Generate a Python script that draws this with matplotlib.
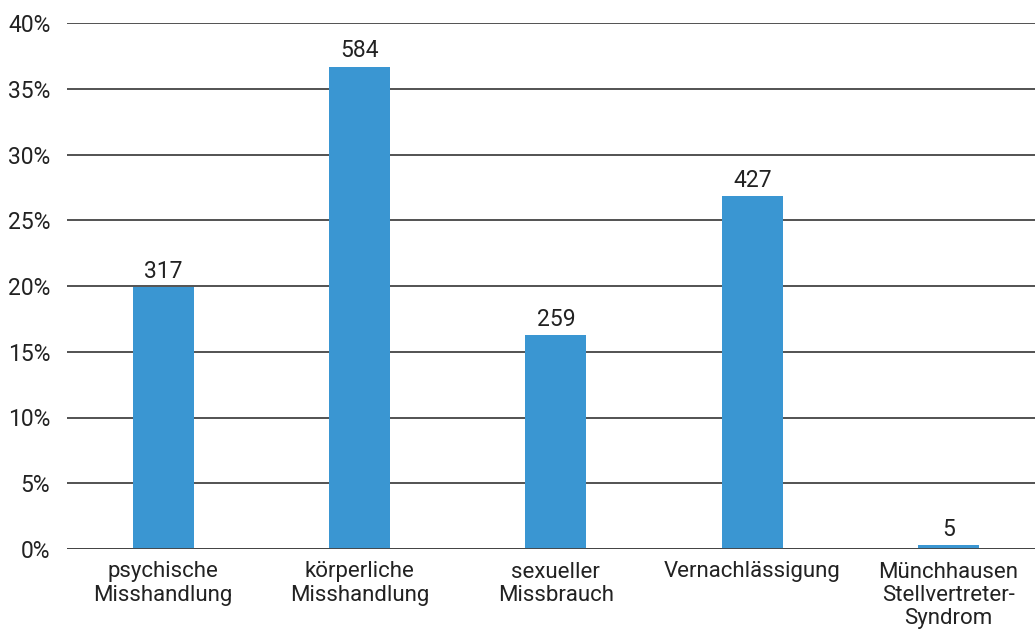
import matplotlib
matplotlib.use("Agg")
import matplotlib.pyplot as plt

categories = ["psychische\nMisshandlung", "körperliche\nMisshandlung", "sexueller\nMissbrauch",
              "Vernachlässigung", "Münchhausen\nStellvertreter-\nSyndrom"]
counts = [317, 584, 259, 427, 5]
total = sum(counts)
percents = [c / total * 100 for c in counts]
yticks = [0, 5, 10, 15, 20, 25, 30, 35, 40]
ytick_labels = [f"{v}%" for v in yticks]

plt.rcParams['font.family'] = ['Roboto', 'DejaVu Sans']

fig = plt.figure(figsize=(10.35, 6.4), dpi=100)
ax = fig.add_axes([67/1035, 1 - 549/640, 1 - 67/1035, (549 - 23)/640])

x = list(range(len(categories)))
ax.bar(x, percents, width=0.31, color="#3a96d2", zorder=2)
for xi, p, c in zip(x, percents, counts):
    ax.annotate(str(c), (xi, p), xytext=(0, 3), textcoords="offset points",
                ha="center", va="bottom", fontsize=16.5, color="#222222")

ax.set_ylim(0, 40)
ax.set_xlim(-0.49, 4.44)
ax.set_yticks(yticks)
ax.set_yticklabels(ytick_labels, fontsize=16.5, color="#222222")
ax.set_xticks(x)
ax.set_xticklabels(categories, fontsize=16, color="#222222", linespacing=1.15)
ax.tick_params(axis="both", length=0)
ax.tick_params(axis="y", pad=12)
ax.tick_params(axis="x", pad=9)
ax.yaxis.grid(True, color="#444444", linewidth=1.3, zorder=0)
ax.set_axisbelow(True)
for s in ax.spines.values():
    s.set_visible(False)
ax.axhline(0, color="#444444", linewidth=1.3, zorder=3)

fig.savefig("out.png", dpi=100)
